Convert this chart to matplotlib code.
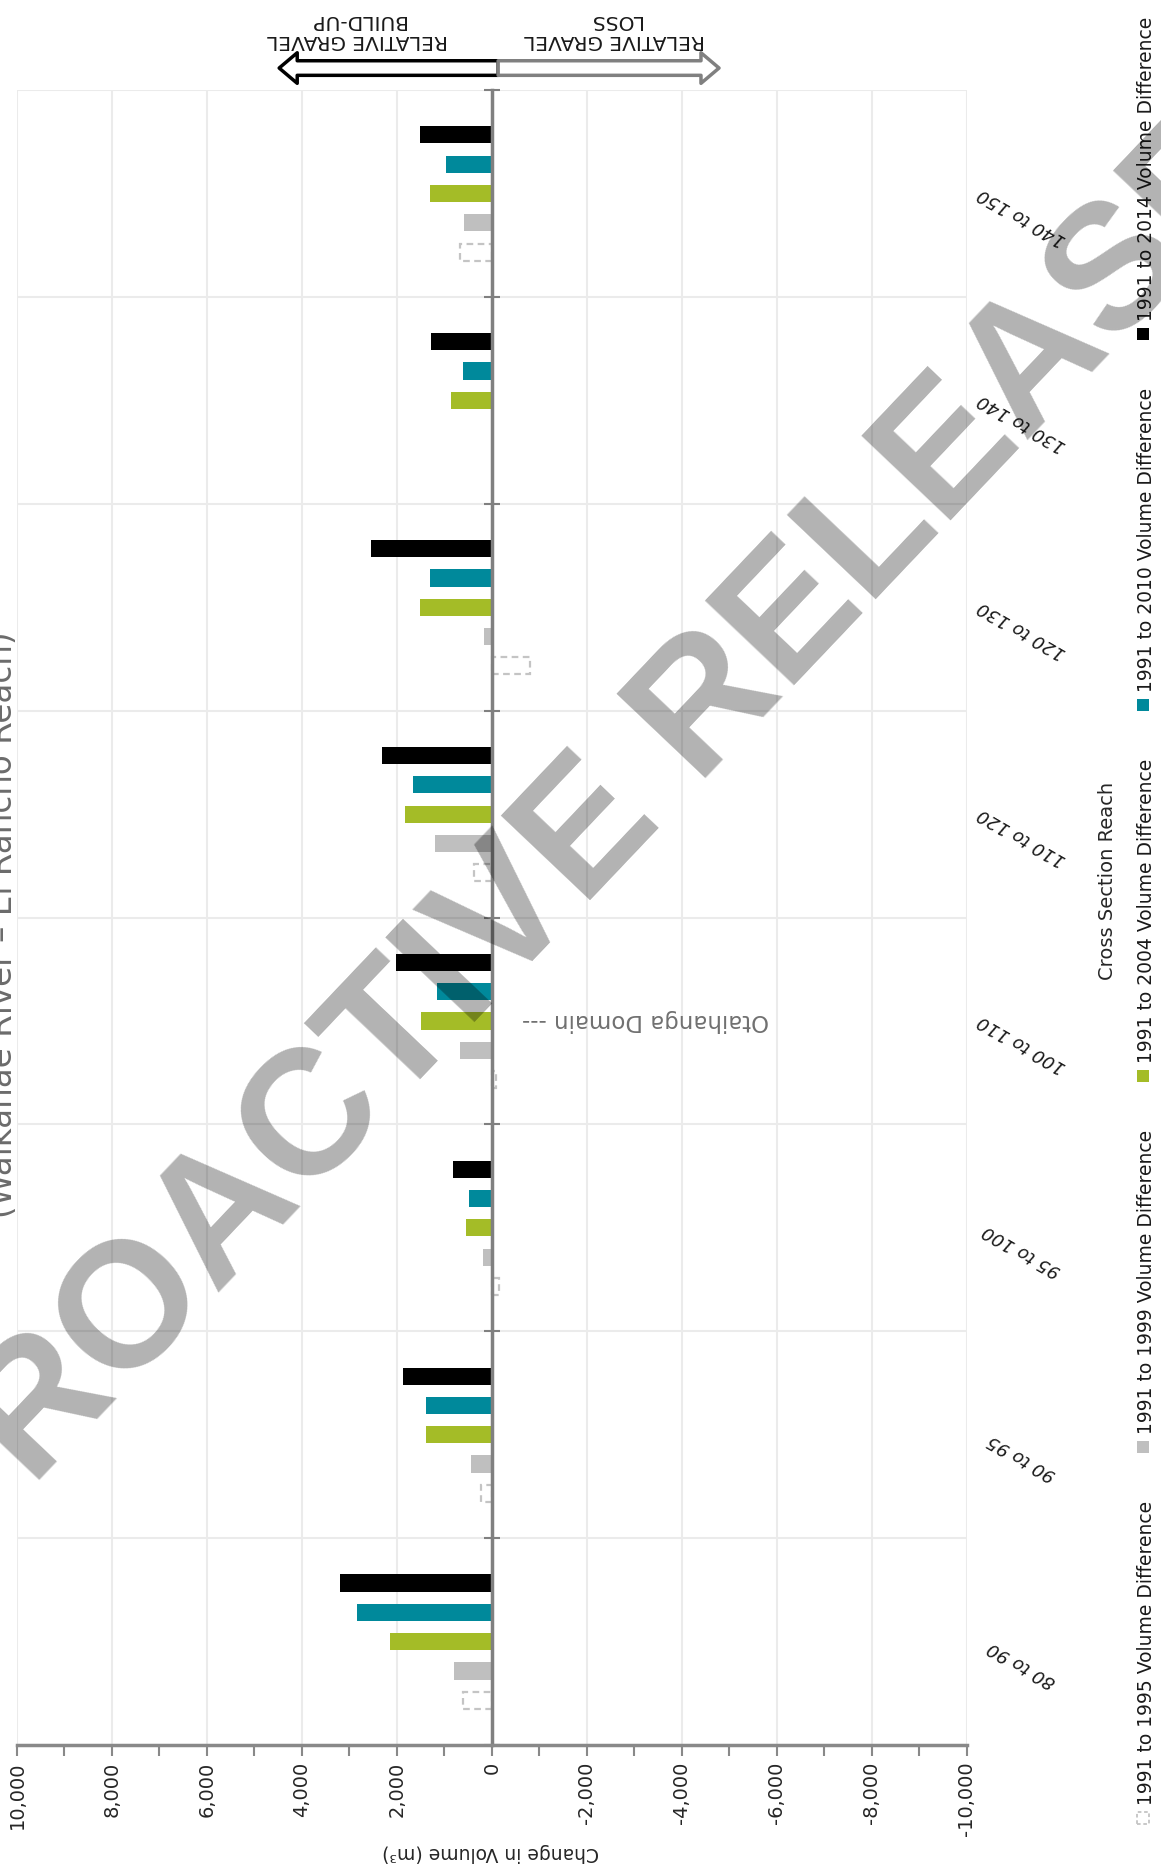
import numpy as np
import matplotlib.pyplot as plt
from matplotlib.transforms import blended_transform_factory
from matplotlib.patches import Rectangle

# cross section reaches, bottom to top
reaches = ["80 to 90", "90 to 95", "95 to 100", "100 to 110",
           "110 to 120", "120 to 130", "130 to 140", "140 to 150"]
series_names = ["1991 to 1995 Volume Difference", "1991 to 1999 Volume Difference",
                "1991 to 2004 Volume Difference", "1991 to 2010 Volume Difference",
                "1991 to 2014 Volume Difference"]
# change in volume (m3), positive = build-up
v1995 = [600, 230, -150, -80, 380, -800, np.nan, 670]
v1999 = [800, 450, 180, 680, 1190, 170, np.nan, 590]
v2004 = [2150, 1390, 555, 1490, 1840, 1515, 860, 1310]
v2010 = [2850, 1390, 480, 1160, 1670, 1310, 600, 960]
v2014 = [3200, 1870, 830, 2020, 2320, 2550, 1290, 1515]
xticks = np.arange(-10000, 10001, 2000)
xtick_labels = [f"{v:,}" for v in xticks]

series = [v1995, v1999, v2004, v2010, v2014]
colors = ["white", "#bfbfbf", "#a4bc27", "#00899b", "#000000"]

fig = plt.figure(figsize=(11.61, 18.76), dpi=100)
ax = fig.add_axes([0.0146, 0.0698, 0.8183, 0.8822])

y = np.arange(len(reaches))
slot = 0.1417
bh = 0.083
for k, vals in enumerate(series):
    off = (k - 2) * slot
    if k == 0:
        ax.barh(y + off, vals, bh, facecolor="white", edgecolor="#c4c4c4",
                linewidth=1.6, linestyle=(0, (3, 2)))
    else:
        ax.barh(y + off, vals, bh, color=colors[k])

ax.set_xlim(10000, -10000)
ax.set_ylim(-0.5, len(reaches) - 0.5)
ax.set_xticks(xticks)
ax.set_xticklabels(xtick_labels, rotation=90, fontsize=14, color="#262626")
ax.set_xticks(np.arange(-10000, 10001, 1000), minor=True)
ax.set_yticks(np.arange(len(reaches) + 1) - 0.5)
ax.tick_params(axis="y", direction="inout", length=12, width=1.5,
               color="#808080", labelleft=False)
ax.tick_params(axis="x", which="both", direction="out", length=8, width=1.5,
               color="#898989", pad=4)
ax.grid(True, color="#ebebeb", lw=1.5)
ax.set_axisbelow(True)
ax.xaxis.grid(True, which="minor", lw=0)
for s in ["top", "right"]:
    ax.spines[s].set_visible(False)
ax.spines["bottom"].set_color("#898989")
ax.spines["bottom"].set_linewidth(2.5)
ax.spines["left"].set_position(("data", 0))
ax.spines["left"].set_color("#808080")
ax.spines["left"].set_linewidth(2.5)

tr = blended_transform_factory(ax.transAxes, ax.transData)
for i, r in enumerate(reaches):
    ax.text(1.058, i - 0.11, r, transform=tr, rotation=150, ha="center",
            va="center", fontsize=13, style="italic", color="#1a1a1a")

ax.text(-630, 3, "Otaihanga Domain ---", rotation=180, ha="left", va="center",
        fontsize=16.5, color="#707070")

# arrows above plot
ta = blended_transform_factory(ax.transData, ax.transAxes)
style = "simple,head_length=1.3,head_width=2.2,tail_width=1.05"
ax.annotate("", xy=(4480, 1.0133), xytext=(-130, 1.0133), xycoords=ta,
            textcoords=ta, annotation_clip=False,
            arrowprops=dict(arrowstyle=style, mutation_scale=10, fc="white",
                            ec="black", lw=2.5, shrinkA=0, shrinkB=0))
ax.annotate("", xy=(-4780, 1.0133), xytext=(-130, 1.0133), xycoords=ta,
            textcoords=ta, annotation_clip=False,
            arrowprops=dict(arrowstyle=style, mutation_scale=10, fc="white",
                            ec="#808080", lw=2.5, shrinkA=0, shrinkB=0))
ax.text(2840, 1.036, "RELATIVE GRAVEL\nBUILD-UP", transform=ta, rotation=180,
        ha="center", va="center", fontsize=14.5, linespacing=1.05, color="#1a1a1a")
ax.text(-2590, 1.036, "RELATIVE GRAVEL\nLOSS", transform=ta, rotation=180,
        ha="center", va="center", fontsize=14.5, linespacing=1.05, color="#1a1a1a")

fig.text(0.4229, 0.0123, "Change in Volume (m\u00b3)", rotation=180, ha="center",
         va="center", fontsize=13.5, color="#262626")
fig.text(0.9535, 0.5304, "Cross Section Reach", rotation=90, ha="center",
         va="center", fontsize=14, color="#262626")
fig.text(19 / 1161, 1 - 925 / 1876, "(Waikanae River \u2013 El Rancho Reach)",
         rotation=90, ha="right", va="center", fontsize=23.5, color="#6b6b6b")

# legend, drawn vertically
W, H = 1161, 1876
for k, name in enumerate(series_names):
    my = 1818 - k * 371
    if k == 0:
        p = Rectangle(((1137) / W, 1 - (my + 6) / H), 12 / W, 12 / H,
                      transform=fig.transFigure, facecolor="white",
                      edgecolor="#c4c4c4", lw=1.3, linestyle=(0, (2, 1.5)))
    else:
        p = Rectangle(((1137) / W, 1 - (my + 6) / H), 12 / W, 12 / H,
                      transform=fig.transFigure, facecolor=colors[k], lw=0)
    fig.patches.append(p)
    fig.text(1146 / W, 1 - (my - 13) / H, name, rotation=90, ha="center",
             va="bottom", fontsize=13.5, color="#1a1a1a")

fig.text(0.50, 0.55, "PROACTIVE RELEASE", rotation=46.5, ha="center",
         va="center", fontsize=128, color="black", alpha=0.3,
         family="Liberation Sans", fontweight="bold", zorder=10)

fig.savefig("out.png", dpi=100)
